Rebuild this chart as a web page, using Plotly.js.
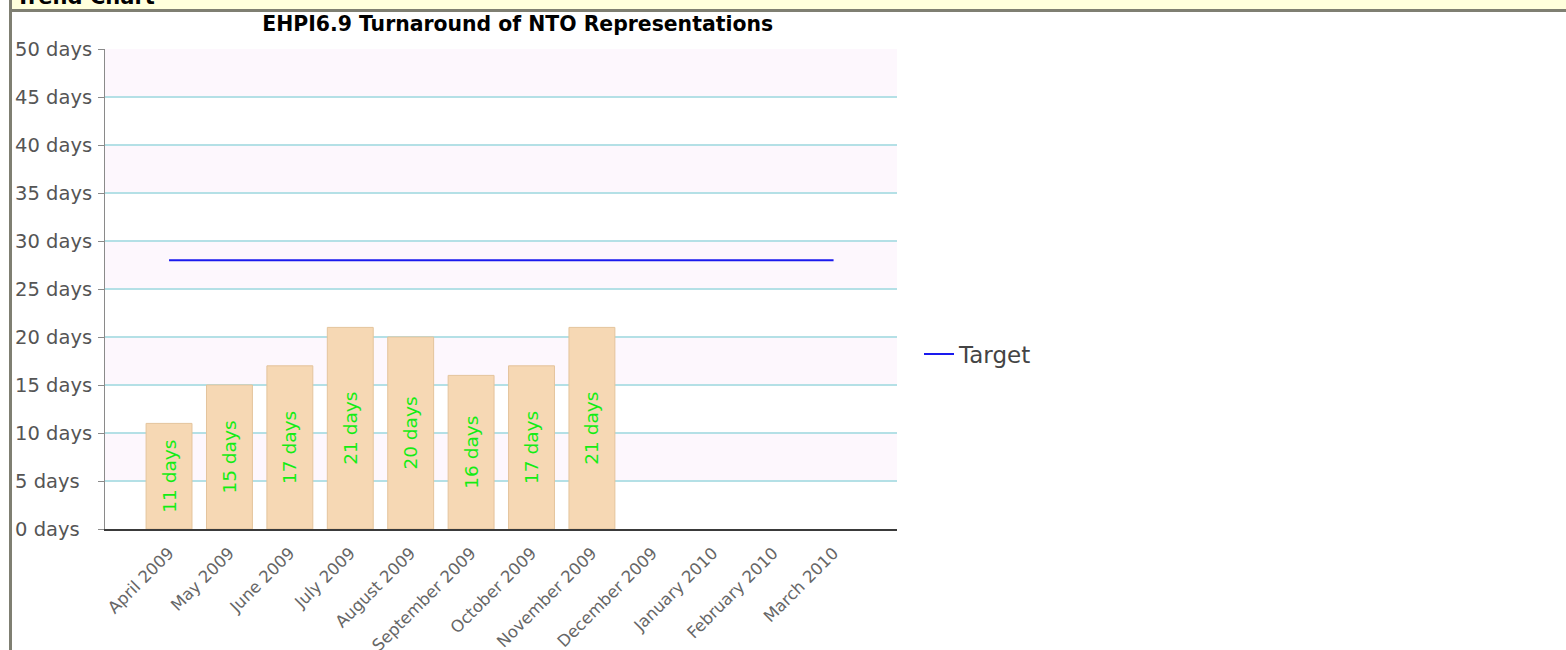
<!DOCTYPE html>
<html>
<head>
<meta charset="utf-8">
<script src="https://cdn.plot.ly/plotly-3.0.1.min.js"></script>
<style>
  html, body { margin: 0; padding: 0; background: #ffffff; overflow: hidden; }
  #chart { position: absolute; left: 0; top: 0; width: 1566px; height: 650px; }
  #hdr { position: absolute; left: 12px; top: 0; width: 1554px; height: 9px; background: #ffffdc; overflow: hidden; z-index: 5; }
  #hdr span { position: absolute; left: 4px; top: -15px; font-family: "DejaVu Sans", sans-serif; font-weight: bold; font-size: 21px; color: #000; line-height: 24px; white-space: nowrap; }
  #hline { position: absolute; left: 9px; top: 9px; width: 1557px; height: 3px; background: #7f7f72; z-index: 5; }
  #vline { position: absolute; left: 9px; top: 0; width: 3px; height: 650px; background: #7f7f72; z-index: 5; }
</style>
</head>
<body>
<div id="chart"></div>
<div id="hdr"><span>Trend Chart</span></div>
<div id="hline"></div>
<div id="vline"></div>
<script>
const months = ["April 2009", "May 2009", "June 2009", "July 2009", "August 2009", "September 2009",
                "October 2009", "November 2009", "December 2009", "January 2010", "February 2010", "March 2010"];
const actualValues = [11, 15, 17, 21, 20, 16, 17, 21, null, null, null, null];
const targetValues = [28, 28, 28, 28, 28, 28, 28, 28, 28, 28, 28, 28];
const yTickValues = [0, 5, 10, 15, 20, 25, 30, 35, 40, 45, 50];
const yTickLabels = yTickValues.map(v => v < 10 ? v + " days\u2007" : v + " days");

const barMonths = [], barVals = [], barText = [];
actualValues.forEach((v, i) => {
  if (v !== null) { barMonths.push(months[i]); barVals.push(v); barText.push(v + " days"); }
});

const bars = {
  type: "bar",
  x: barMonths,
  y: barVals,
  text: barText,
  textposition: "inside",
  insidetextanchor: "middle",
  textangle: -90,
  constraintext: "none",
  textfont: { family: "DejaVu Sans, sans-serif", size: 18.5, color: "#14ec14" },
  marker: { color: "#f6d8b4", line: { color: "#e4c49c", width: 1 } },
  width: 0.76,
  showlegend: false,
  hoverinfo: "x+y"
};

const target = {
  type: "scatter",
  mode: "lines",
  name: "Target",
  x: months,
  y: targetValues,
  line: { color: "#1a1aee", width: 2 },
  showlegend: true
};

// alternating background bands between gridlines
const shapes = [];
for (let i = 1; i < yTickValues.length - 1; i += 2) {
  shapes.push({
    type: "rect", xref: "paper", yref: "y", layer: "below",
    x0: 0, x1: 1, y0: yTickValues[i], y1: yTickValues[i + 1],
    fillcolor: "#fdf7fd", line: { width: 0 }
  });
}

const layout = {
  width: 1566,
  height: 650,
  margin: { l: 105, r: 669, t: 49, b: 121, pad: 0 },
  paper_bgcolor: "#ffffff",
  plot_bgcolor: "#ffffff",
  font: { family: "DejaVu Sans, sans-serif", color: "#555555" },
  title: {
    text: "<b>EHPI6.9 Turnaround of NTO Representations</b>",
    font: { family: "DejaVu Sans, sans-serif", size: 20.4, color: "#000000" },
    xref: "paper", x: 0.521, xanchor: "center",
    yref: "container", y: 1 - 24 / 650, yanchor: "middle"
  },
  xaxis: {
    type: "category",
    categoryorder: "array",
    categoryarray: months,
    range: [-1.06, 12.05],
    tickangle: -45,
    tickfont: { size: 16.5, color: "#666666" },
    ticklabelstandoff: 6,
    showgrid: false,
    zeroline: false,
    showline: true,
    linecolor: "#3a3a3a",
    linewidth: 2,
    ticks: "",
    fixedrange: true
  },
  yaxis: {
    range: [0, 50],
    tickvals: yTickValues,
    ticktext: yTickLabels,
    tickfont: { size: 19.5, color: "#555555" },
    ticklabelstandoff: 2,
    ticks: "outside",
    ticklen: 6,
    tickcolor: "#8a8a8a",
    showline: true,
    linecolor: "#8a8a8a",
    linewidth: 1,
    showgrid: true,
    gridcolor: "#b4e0e6",
    gridwidth: 1.5,
    zeroline: false,
    fixedrange: true
  },
  shapes: shapes,
  bargap: 0.24,
  legend: {
    x: (919 - 105) / 792, xanchor: "left",
    y: 1 - (354 - 49) / 480, yanchor: "middle",
    font: { size: 23, color: "#444444" },
    bgcolor: "rgba(0,0,0,0)"
  },
  showlegend: true
};

Plotly.newPlot("chart", [bars, target], layout, { displayModeBar: false, staticPlot: true });
</script>
</body>
</html>
